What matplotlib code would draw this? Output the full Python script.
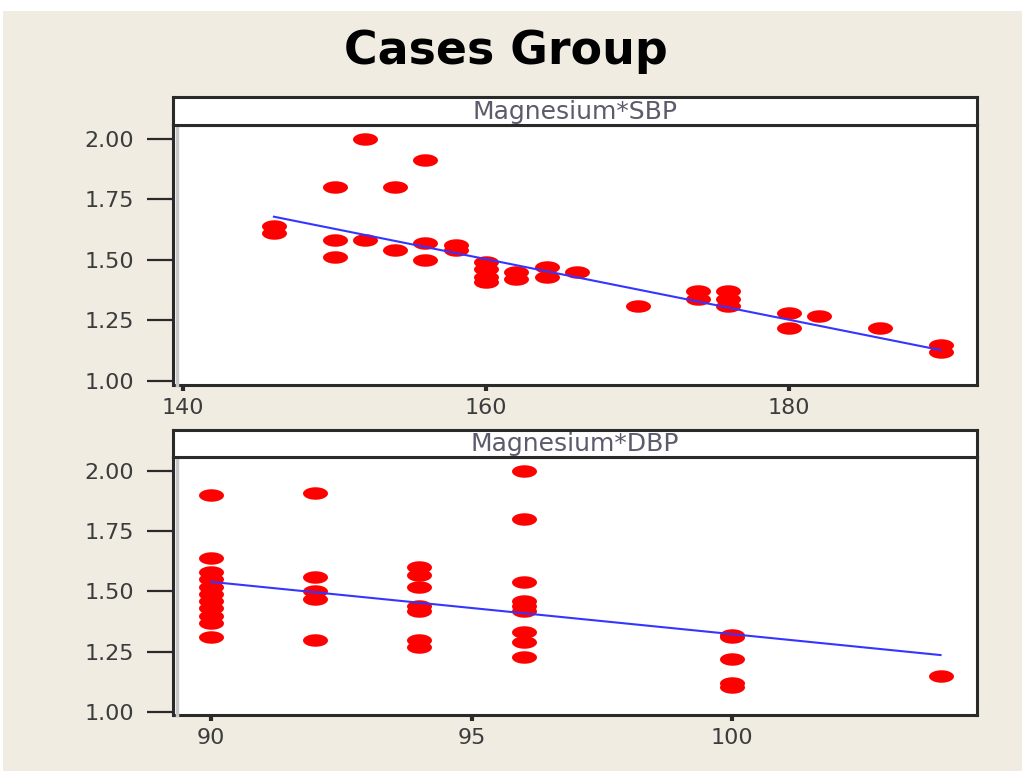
import numpy as np
import matplotlib
matplotlib.use('Agg')
import matplotlib.pyplot as plt
from matplotlib.path import Path
from matplotlib.patches import Rectangle

## Dados: Magnesio x pressao sistolica (SBP) e diastolica (DBP)
sbp = [146, 146, 150, 150, 150, 152, 152, 154, 154, 156, 156, 156, 158, 158,
       160, 160, 160, 160, 162, 162, 164, 164, 166, 170, 174, 174,
       176, 176, 176, 180, 180, 182, 186, 190, 190]
mg_sbp = [1.64, 1.61, 1.80, 1.58, 1.51, 2.00, 1.58, 1.80, 1.54, 1.91, 1.57, 1.50, 1.56, 1.54,
          1.49, 1.46, 1.43, 1.41, 1.45, 1.42, 1.47, 1.43, 1.45, 1.31, 1.37, 1.34,
          1.37, 1.34, 1.31, 1.28, 1.22, 1.27, 1.22, 1.15, 1.12]

dbp = [90] * 11 + [92] * 5 + [94] * 7 + [96] * 9 + [100] * 5 + [104]
mg_dbp = [1.90, 1.64, 1.58, 1.55, 1.52, 1.49, 1.46, 1.43, 1.40, 1.37, 1.31,
          1.91, 1.56, 1.50, 1.47, 1.30,
          1.60, 1.57, 1.52, 1.44, 1.42, 1.30, 1.27,
          2.00, 1.80, 1.54, 1.46, 1.44, 1.42, 1.33, 1.29, 1.23,
          1.32, 1.31, 1.22, 1.12, 1.105,
          1.15]

## Retas ajustadas (inclinacao, intercepto)
reta_sbp = [-0.0125, 3.5025]
reta_dbp = [-0.0217, 3.493]

yticks = [1.00, 1.25, 1.50, 1.75, 2.00]
xticks_sbp = [140, 160, 180]
xticks_dbp = [90, 95, 100]
#######################

fundo = '#F0ECE2'
borda = '#2a2a2a'

# marcador em forma de elipse achatada
t = np.linspace(0, 2 * np.pi, 41)
elipse = Path(np.column_stack([np.cos(t), 0.5 * np.sin(t)]), closed=True)


def painel(fig, rect_plot, rect_faixa, x, y, reta, xlim, ylim, xticks, titulo):
  ax = fig.add_axes(rect_plot)
  ax.set_facecolor('white')

  ## Pontos e reta
  ax.plot(x, y, linestyle='none', marker=elipse, ms=18, color='#ff0000',
          mec='none', zorder=2)
  xr = np.array([min(x), max(x)])
  ax.plot(xr, reta[0] * xr + reta[1], color='#3535ff', lw=1.5, zorder=3)
  ################

  ax.set_xlim(xlim)
  ax.set_ylim(ylim)
  ax.set_xticks(xticks)
  ax.set_xticklabels([str(v) for v in xticks])
  ax.set_yticks(yticks)
  ax.set_yticklabels([f"{v:.2f}" for v in yticks])
  ax.tick_params(axis='y', direction='out', length=19, width=1.6, pad=9,
                 labelsize=16, color=borda, labelcolor='#3c3c3c')
  ax.tick_params(axis='x', direction='out', length=4.5, width=3, pad=5,
                 labelsize=16, color=borda, labelcolor='#3c3c3c')
  for s in ax.spines.values():
    s.set_color(borda)
    s.set_linewidth(2.2)
  # linha cinza por dentro da borda esquerda
  ax.plot([0.005, 0.005], [0, 1], transform=ax.transAxes, color='#c8c8c8',
          lw=2.5, zorder=4, clip_on=False)

  ## Faixa com o titulo do painel
  faixa = fig.add_axes(rect_faixa)
  faixa.set_facecolor('white')
  faixa.set_xticks([])
  faixa.set_yticks([])
  for s in faixa.spines.values():
    s.set_color(borda)
    s.set_linewidth(2.2)
  faixa.text(0.5, 0.47, titulo, ha='center', va='center', fontsize=18,
             color='#5b5b6b', transform=faixa.transAxes)
  return ax


def main():
  fig = plt.figure(figsize=(10.22, 7.71), dpi=100, facecolor='white')
  fig.patches.append(Rectangle((3 / 1022, 0), 1, 1 - 11 / 771, transform=fig.transFigure,
                               facecolor=fundo, edgecolor='none', zorder=-10))

  esq = 173 / 1022
  larg = (977 - 173) / 1022

  painel(fig, [esq, 1 - 385 / 771, larg, (385 - 125) / 771],
         [esq, 1 - 125 / 771, larg, (125 - 97) / 771],
         sbp, mg_sbp, reta_sbp, (139.34, 192.4), (0.9835, 2.0557),
         xticks_sbp, 'Magnesium*SBP')

  painel(fig, [esq, 1 - 715 / 771, larg, (715 - 457) / 771],
         [esq, 1 - 457 / 771, larg, (457 - 430) / 771],
         dbp, mg_dbp, reta_dbp, (89.27, 104.70), (0.9875, 2.058),
         xticks_dbp, 'Magnesium*DBP')

  fig.text(506 / 1022, 1 - 52 / 771, 'Cases Group', ha='center', va='center',
           fontsize=33, fontweight='bold', color='black')

  fig.savefig('out.png', dpi=100, facecolor=fig.get_facecolor())

main()
